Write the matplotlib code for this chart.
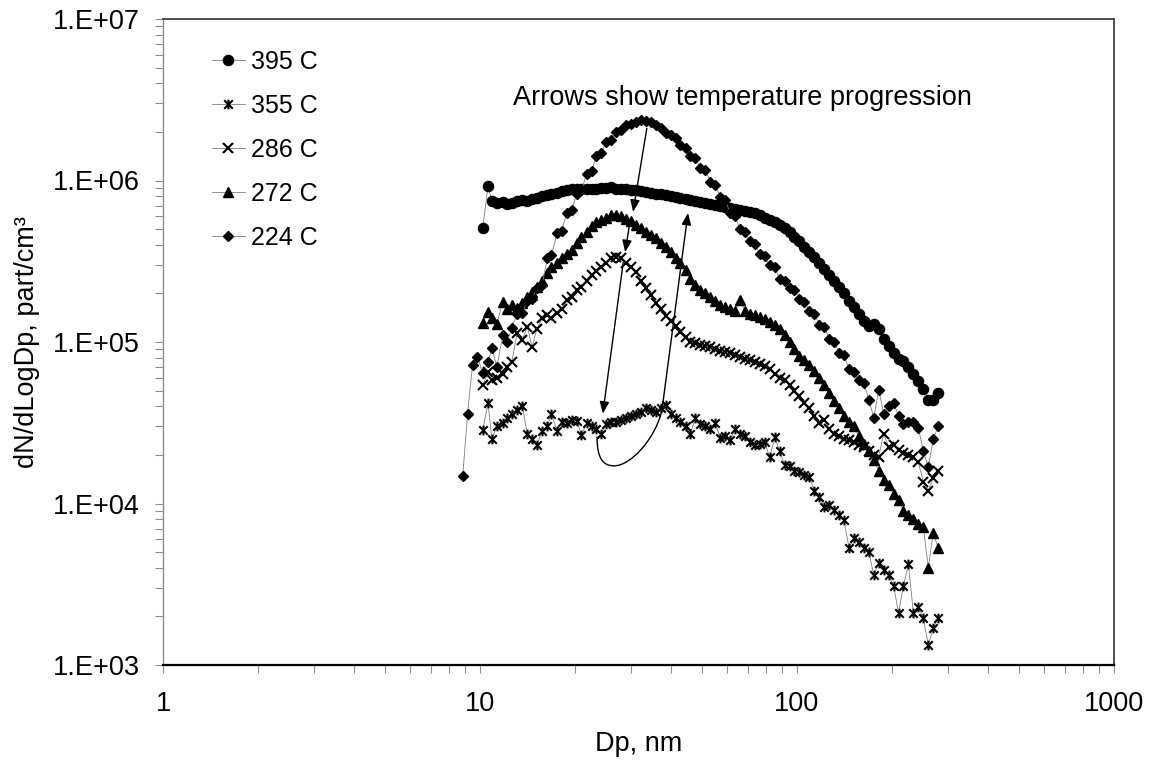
import numpy as np
import matplotlib
matplotlib.use("Agg")
import matplotlib.pyplot as plt
from matplotlib.path import Path
from matplotlib.patches import FancyArrowPatch
from matplotlib.ticker import FixedLocator, FixedFormatter, LogLocator, NullFormatter

plt.rcParams["font.family"] = ["Liberation Sans", "DejaVu Sans"]

# SMPS channel midpoint diameters (nm), 64 channels per decade
DP_CHANNELS = [
    8.82, 9.14, 9.47, 9.82, 10.2, 10.6, 10.9, 11.3, 11.8, 12.2, 12.6, 13.1, 13.6,
    14.1, 14.6, 15.1, 15.7, 16.3, 16.8, 17.5, 18.1, 18.8, 19.5, 20.2, 20.9, 21.7,
    22.5, 23.3, 24.1, 25.0, 25.9, 26.9, 27.9, 28.9, 30.0, 31.1, 32.2, 33.4, 34.6,
    35.9, 37.2, 38.5, 40.0, 41.4, 42.9, 44.5, 46.1, 47.8, 49.6, 51.4, 53.3, 55.2,
    57.3, 59.4, 61.5, 63.8, 66.1, 68.5, 71.0, 73.7, 76.4, 79.1, 82.0, 85.1, 88.2,
    91.4, 94.7, 98.2, 101.8, 105.5, 109.4, 113.4, 117.6, 121.9, 126.3, 131.0,
    135.8, 140.7, 145.9, 151.2, 156.8, 162.5, 168.5, 174.7, 181.1, 187.7, 194.6,
    201.7, 209.1, 216.7, 224.7, 232.9, 241.4, 250.3, 259.5, 269.0, 278.8,
]

# dN/dLogDp (part/cm3) per temperature; 224 C starts at 8.82 nm, the rest at 10.2 nm
n_395 = [
    5.1e5, 9.2e5, 7.5e5, 7.3e5, 7.4e5, 7.2e5, 7.3e5, 7.5e5, 7.6e5, 7.5e5, 7.7e5,
    7.8e5, 8.0e5, 8.1e5, 8.3e5, 8.4e5, 8.6e5, 8.7e5, 8.8e5, 8.9e5, 8.9e5, 8.8e5,
    8.9e5, 8.9e5, 9.0e5, 9.0e5, 9.1e5, 8.9e5, 8.9e5, 8.8e5, 8.7e5, 8.7e5, 8.6e5,
    8.5e5, 8.4e5, 8.3e5, 8.2e5, 8.1e5, 8.0e5, 7.9e5, 7.8e5, 7.7e5, 7.6e5, 7.5e5,
    7.4e5, 7.3e5, 7.2e5, 7.1e5, 7.0e5, 6.9e5, 6.8e5, 6.7e5, 6.6e5, 6.5e5, 6.4e5,
    6.3e5, 6.1e5, 5.9e5, 5.7e5, 5.5e5, 5.3e5, 5.1e5, 4.8e5, 4.5e5, 4.2e5, 3.9e5,
    3.6e5, 3.35e5, 3.1e5, 2.85e5, 2.6e5, 2.4e5, 2.2e5, 2.0e5, 1.8e5, 1.65e5,
    1.5e5, 1.35e5, 1.25e5, 1.3e5, 1.2e5, 1.05e5, 9.5e4, 8.5e4, 7.8e4, 7.6e4,
    7.0e4, 6.3e4, 5.7e4, 5.1e4, 4.4e4, 4.4e4, 4.8e4,
]

n_355 = [
    2.85e4, 4.2e4, 2.5e4, 3.0e4, 3.15e4, 3.4e4, 3.6e4, 3.8e4, 4.0e4, 2.7e4, 2.5e4,
    2.3e4, 2.8e4, 3.0e4, 3.6e4, 2.8e4, 3.2e4, 3.15e4, 3.3e4, 3.25e4, 2.65e4,
    3.15e4, 3.0e4, 2.9e4, 2.7e4, 3.1e4, 3.2e4, 3.2e4, 3.3e4, 3.4e4, 3.5e4, 3.6e4,
    3.7e4, 3.9e4, 3.8e4, 3.7e4, 3.9e4, 4.1e4, 3.6e4, 3.4e4, 3.2e4, 3.0e4, 2.7e4,
    3.4e4, 3.1e4, 3.0e4, 2.9e4, 3.15e4, 2.55e4, 2.6e4, 2.47e4, 2.9e4, 2.7e4,
    2.6e4, 2.4e4, 2.3e4, 2.35e4, 2.4e4, 1.94e4, 2.57e4, 2.1e4, 1.74e4, 1.7e4,
    1.6e4, 1.57e4, 1.5e4, 1.46e4, 1.2e4, 1.1e4, 9.5e3, 9.8e3, 9.1e3, 8.5e3,
    7.9e3, 5.3e3, 6.1e3, 5.8e3, 5.3e3, 5.0e3, 3.6e3, 4.3e3, 3.9e3, 3.6e3, 3.1e3,
    2.1e3, 3.1e3, 4.2e3, 2.1e3, 2.3e3, 1.95e3, 1.33e3, 1.7e3, 1.95e3,
]

n_286 = [
    5.4e4, 6.5e4, 5.8e4, 6.0e4, 6.3e4, 7.0e4, 7.5e4, 1.14e5, 1.03e5, 1.24e5,
    9.3e4, 1.2e5, 1.4e5, 1.47e5, 1.4e5, 1.51e5, 1.6e5, 1.82e5, 1.9e5, 2.1e5,
    2.2e5, 2.4e5, 2.6e5, 2.75e5, 2.9e5, 3.1e5, 3.3e5, 3.36e5, 3.3e5, 3.1e5,
    2.9e5, 2.7e5, 2.4e5, 2.15e5, 1.95e5, 1.75e5, 1.6e5, 1.45e5, 1.35e5, 1.25e5,
    1.15e5, 1.07e5, 1.0e5, 9.8e4, 9.6e4, 9.4e4, 9.3e4, 9.0e4, 8.8e4, 8.7e4,
    8.5e4, 8.3e4, 8.1e4, 7.9e4, 7.7e4, 7.5e4, 7.3e4, 7.1e4, 6.8e4, 6.3e4, 6.0e4,
    5.8e4, 5.4e4, 5.0e4, 4.6e4, 4.2e4, 3.9e4, 3.5e4, 3.15e4, 3.3e4, 2.9e4,
    2.7e4, 2.6e4, 2.5e4, 2.47e4, 2.4e4, 2.3e4, 2.24e4, 2.1e4, 2.0e4, 1.95e4,
    2.7e4, 2.24e4, 2.3e4, 2.14e4, 2.05e4, 2.0e4, 1.94e4, 1.8e4, 1.36e4, 1.2e4,
    1.44e4, 1.6e4,
]

n_272 = [
    1.31e5, 1.53e5, 1.41e5, 1.3e5, 1.77e5, 1.6e5, 1.7e5, 1.62e5, 1.75e5, 1.9e5,
    2.05e5, 2.19e5, 2.4e5, 2.67e5, 2.9e5, 3.1e5, 3.3e5, 3.5e5, 3.7e5, 4.1e5,
    4.5e5, 4.8e5, 5.2e5, 5.5e5, 5.7e5, 5.9e5, 6.1e5, 6.1e5, 6.0e5, 5.8e5, 5.6e5,
    5.3e5, 5.1e5, 4.8e5, 4.6e5, 4.4e5, 4.1e5, 3.9e5, 3.6e5, 3.3e5, 3.1e5, 2.8e5,
    2.45e5, 2.25e5, 2.1e5, 2.0e5, 1.9e5, 1.8e5, 1.7e5, 1.65e5, 1.6e5, 1.55e5,
    1.82e5, 1.55e5, 1.5e5, 1.48e5, 1.42e5, 1.38e5, 1.33e5, 1.28e5, 1.2e5, 1.1e5,
    1.0e5, 9.0e4, 8.2e4, 7.7e4, 7.2e4, 6.6e4, 6.0e4, 5.4e4, 4.8e4, 4.3e4, 3.9e4,
    3.5e4, 3.2e4, 3.0e4, 2.6e4, 2.35e4, 2.1e4, 1.85e4, 1.6e4, 1.4e4, 1.3e4,
    1.15e4, 1.05e4, 9.0e3, 8.5e3, 8.0e3, 7.5e3, 7.2e3, 4.0e3, 6.6e3, 5.3e3,
]

n_224 = [
    1.48e4, 3.6e4, 7.2e4, 8.1e4, 6.4e4, 7.5e4, 9.2e4, 7.0e4, 1.1e5, 1.0e5,
    1.22e5, 1.5e5, 1.52e5, 1.8e5, 1.85e5, 2.15e5, 2.25e5, 3.3e5, 3.45e5, 4.7e5,
    4.9e5, 6.3e5, 6.6e5, 8.3e5, 8.7e5, 1.1e6, 1.15e6, 1.42e6, 1.48e6, 1.72e6,
    1.78e6, 2.0e6, 2.05e6, 2.2e6, 2.25e6, 2.3e6, 2.37e6, 2.35e6, 2.3e6, 2.22e6,
    2.1e6, 1.98e6, 1.9e6, 1.82e6, 1.65e6, 1.6e6, 1.42e6, 1.38e6, 1.2e6, 1.16e6,
    9.8e5, 9.4e5, 7.9e5, 7.6e5, 6.3e5, 6.0e5, 5.0e5, 4.8e5, 4.2e5, 4.05e5,
    3.5e5, 3.4e5, 3.0e5, 2.9e5, 2.45e5, 2.4e5, 2.15e5, 2.1e5, 1.85e5, 1.78e5,
    1.55e5, 1.5e5, 1.28e5, 1.24e5, 1.05e5, 1.0e5, 8.6e4, 8.3e4, 6.8e4, 6.5e4,
    5.8e4, 5.6e4, 4.4e4, 3.4e4, 5.05e4, 3.6e4, 4.0e4, 4.2e4, 3.5e4, 3.1e4,
    3.2e4, 3.2e4, 2.95e4, 2.1e4, 1.68e4, 2.5e4, 3.0e4,
]

SERIES_LABELS = ["395 C", "355 C", "286 C", "272 C", "224 C"]
X_TICKS = [1, 10, 100, 1000]
X_TICK_LABELS = ["1", "10", "100", "1000"]
Y_TICKS = [1e3, 1e4, 1e5, 1e6, 1e7]
Y_TICK_LABELS = ["1.E+03", "1.E+04", "1.E+05", "1.E+06", "1.E+07"]

# Excel-style star marker: an "x" crossed by a vertical bar
star_marker = Path(
    [(-1, -1), (1, 1), (-1, 1), (1, -1), (0, -1.15), (0, 1.15)],
    [Path.MOVETO, Path.LINETO, Path.MOVETO, Path.LINETO, Path.MOVETO, Path.LINETO],
)

fig = plt.figure(figsize=(11.56, 7.66), dpi=100)
ax = fig.add_axes([163 / 1156, 1 - 665 / 766, (1114 - 163) / 1156, (665 - 19) / 766])

line_kw = dict(color="#7f7f7f", lw=0.6, mfc="black", mec="black")
dp_all = DP_CHANNELS
dp_rest = DP_CHANNELS[4:]
ax.plot(dp_rest, n_395, marker="o", ms=7.3, label=SERIES_LABELS[0], **line_kw)
ax.plot(dp_rest, n_355, marker=star_marker, ms=7, mew=1.5, label=SERIES_LABELS[1], **line_kw)
ax.plot(dp_rest, n_286, marker="x", ms=6.6, mew=1.5, label=SERIES_LABELS[2], **line_kw)
ax.plot(dp_rest, n_272, marker="^", ms=7, label=SERIES_LABELS[3], **line_kw)
ax.plot(dp_all, n_224, marker="D", ms=5, label=SERIES_LABELS[4], **line_kw)

ax.set_xscale("log")
ax.set_yscale("log")
ax.set_xlim(1, 1000)
ax.set_ylim(1e3, 1e7)

ax.xaxis.set_major_locator(FixedLocator(X_TICKS))
ax.xaxis.set_major_formatter(FixedFormatter(X_TICK_LABELS))
ax.yaxis.set_major_locator(FixedLocator(Y_TICKS))
ax.yaxis.set_major_formatter(FixedFormatter(Y_TICK_LABELS))
for axis in (ax.xaxis, ax.yaxis):
    axis.set_minor_locator(LogLocator(base=10, subs=range(2, 10), numticks=20))
    axis.set_minor_formatter(NullFormatter())

ax.tick_params(which="both", direction="out", length=5.5, width=0.8, color="#8c8c8c",
               labelsize=19.5, top=False, right=False)
ax.tick_params(axis="y", which="both", pad=11)
ax.tick_params(axis="x", which="both", pad=13)

ax.spines["bottom"].set_color("black")
ax.spines["bottom"].set_linewidth(1.6)
ax.spines["left"].set_color("#8c8c8c")
ax.spines["left"].set_linewidth(1.0)
for side in ("top", "right"):
    ax.spines[side].set_color("#4d4d4d")
    ax.spines[side].set_linewidth(1.4)

ax.set_xlabel("Dp, nm", fontsize=19.5, labelpad=10)
ax.set_ylabel("dN/dLogDp, part/cm³", fontsize=19.5, labelpad=9)

leg = ax.legend(loc="upper left", bbox_to_anchor=((212 - 163) / 951, (665 - 50) / 646),
                frameon=False, fontsize=18, numpoints=1, handlelength=1.3,
                handletextpad=0.25, labelspacing=0.8, borderpad=0, borderaxespad=0)

ax.text((513 - 163) / 951, (665 - 105) / 646, "Arrows show temperature progression",
        transform=ax.transAxes, fontsize=19.5, ha="left", va="baseline")

# straight arrows: 224 C -> 272 C -> 286 C -> 355 C
arrow_kw = dict(arrowstyle="-|>,head_length=0.55,head_width=0.22", color="black",
                lw=1.0, shrinkA=0, shrinkB=0, mutation_scale=13)
arrow_segments = [
    ((33.6, 2.11e6), (30.4, 6.4e5)),
    ((29.7, 5.5e5), (28.7, 3.6e5)),
    ((28.3, 3.1e5), (24.4, 3.6e4)),
]
for start, end in arrow_segments:
    ax.annotate("", xy=end, xytext=start, arrowprops=arrow_kw)

# curved return arrow: 355 C -> 395 C
loop_verts = [
    (23.4, 2.58e4), (23.4, 1.91e4), (24.4, 1.71e4), (26.5, 1.71e4),
    (29.7, 1.71e4), (35.7, 2.47e4), (37.5, 3.8e4),
    (45.3, 6.3e5),
]
loop_codes = [Path.MOVETO, Path.CURVE4, Path.CURVE4, Path.CURVE4,
              Path.CURVE4, Path.CURVE4, Path.CURVE4, Path.LINETO]
loop = FancyArrowPatch(path=Path(loop_verts, loop_codes),
                       arrowstyle="-|>,head_length=0.55,head_width=0.22",
                       mutation_scale=13, color="black", lw=1.0)
ax.add_patch(loop)

fig.savefig("out.png", dpi=100)
